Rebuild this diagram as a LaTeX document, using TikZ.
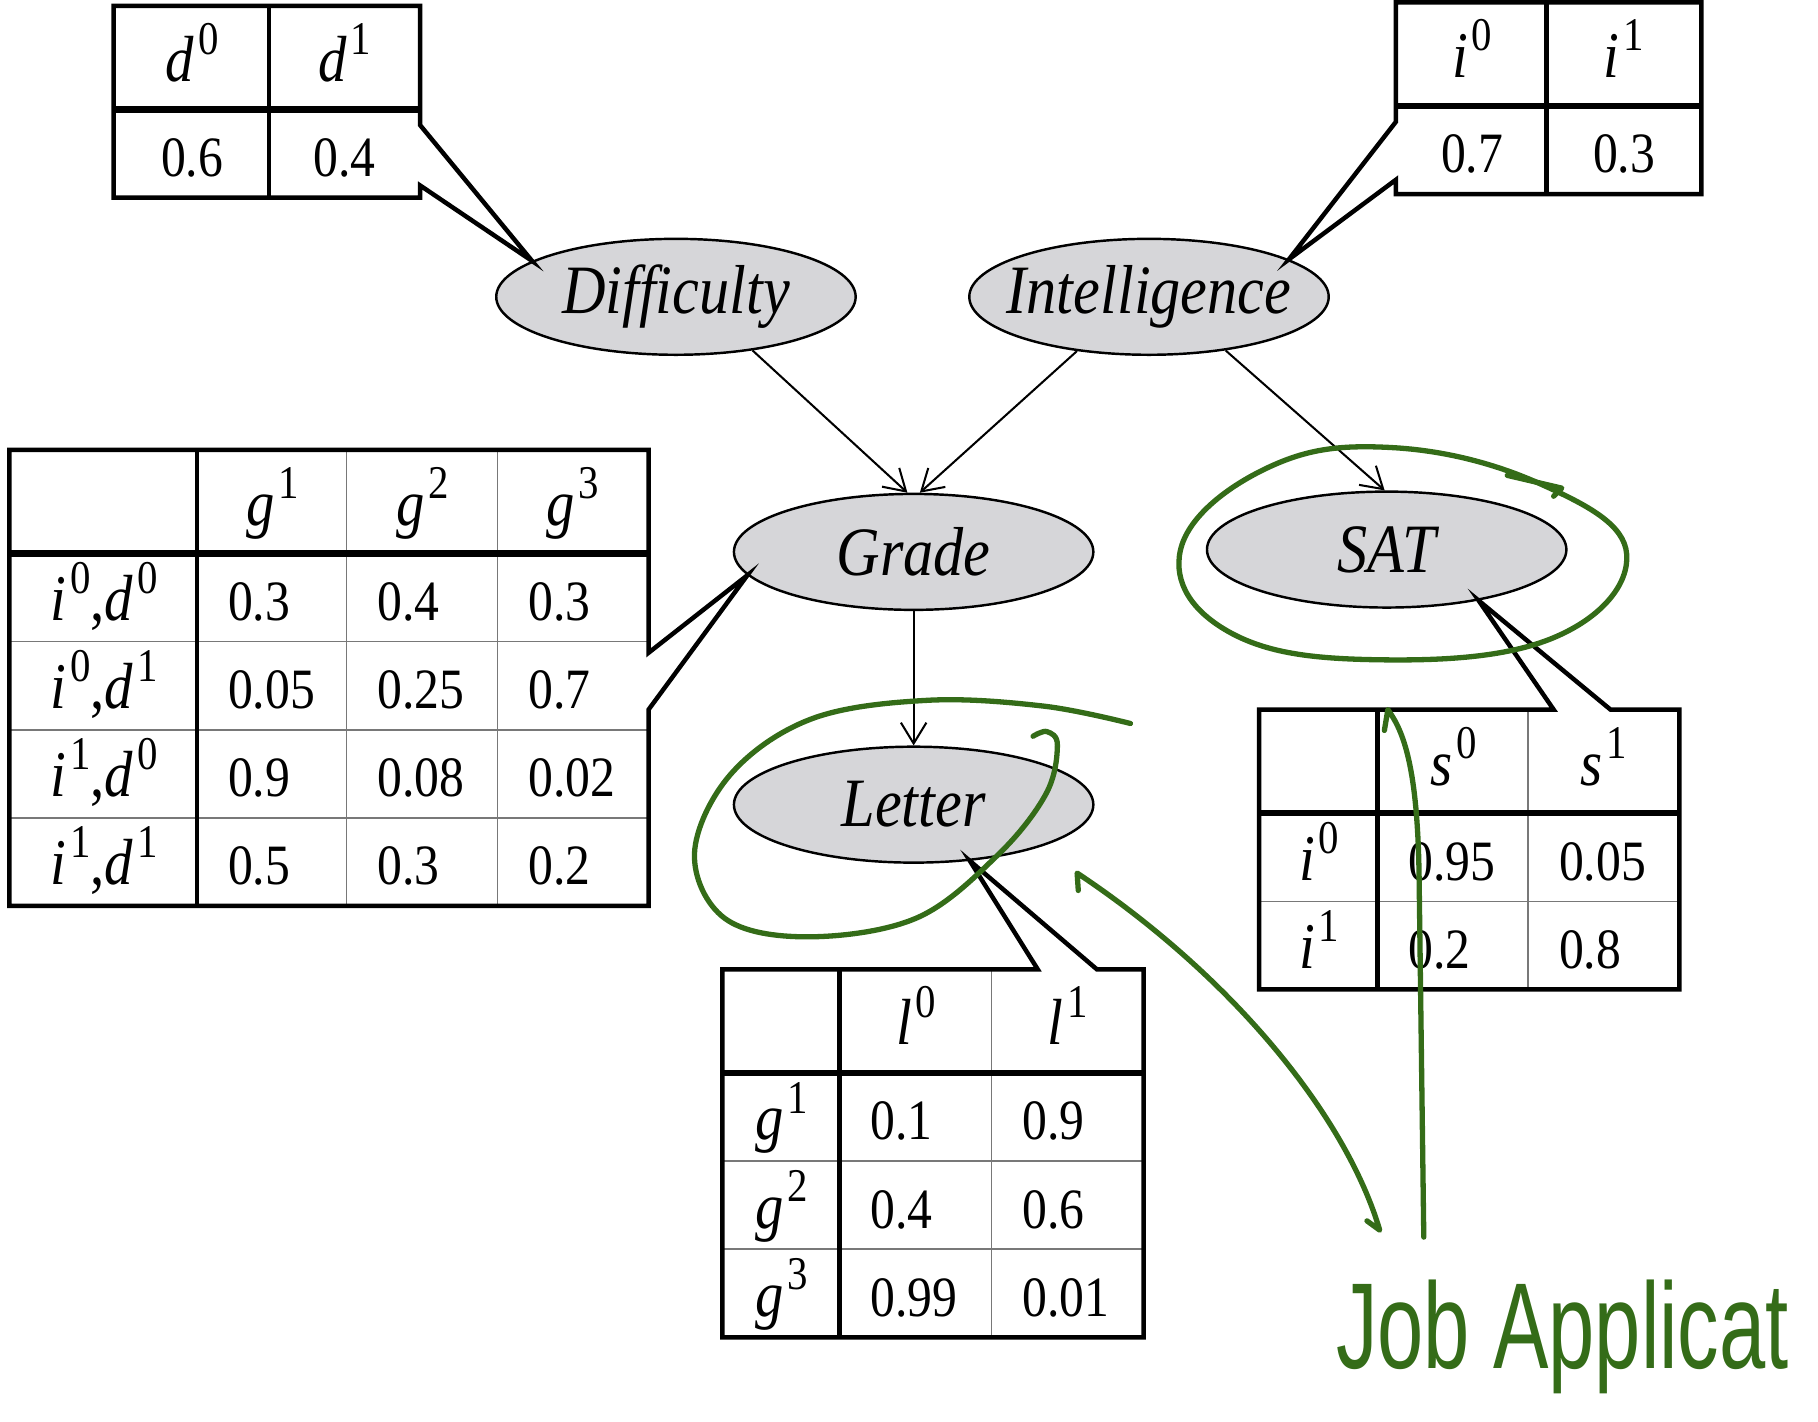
\documentclass[tikz,border=0pt]{standalone}
\usepackage{fontspec}
\setmainfont{Liberation Serif}[FakeStretch=0.87]
\newfontfamily\handfont{Liberation Sans}[FakeStretch=0.68]
\usetikzlibrary{
    arrows.meta,
    matrix,
    shapes.geometric
}
\definecolor{NodeGray}{RGB}{214,214,217}
\definecolor{InkGreen}{RGB}{52,108,24}
\definecolor{RuleGray}{RGB}{120,120,120}

\newcommand{\sv}[2]{\textit{#1}\kern.06em\raisebox{.9ex}{\scalebox{.72}{#2}}}
\newcommand{\lblfont}{\fontsize{17}{20}\selectfont\itshape}
\newcommand{\hdfont}{\fontsize{16}{19}\selectfont}
\newcommand{\numfont}{\fontsize{14}{17}\selectfont}

\tikzset{
  rv/.style    = {ellipse, draw, fill=NodeGray, line width=0.6pt,
                  minimum width=31mm, minimum height=10mm,
                  inner sep=0pt, font=\lblfont},
  arr/.style   = {-{Straight Barb[length=1.8mm, width=2.2mm]}, line width=0.5pt},
  cpt/.style   = {matrix of nodes, nodes in empty cells, anchor=north west,
                  inner sep=0pt, column sep=0pt, row sep=0pt,
                  nodes={inner xsep=2.6mm, inner ysep=0pt, text height=4.6mm,
                         text depth=0.5mm, minimum height=7.6mm,
                         align=left, font=\numfont},
                  row 1/.style={nodes={minimum height=8.8mm, align=center, font=\hdfont}}},
  rule/.style  = {line width=1.1pt},
  hrule/.style = {line width=1.6pt},
  fine/.style  = {line width=0.4pt, draw=RuleGray},
  ink/.style   = {draw=InkGreen, line width=1.3pt, line cap=round, line join=round}
}

\begin{document}
\begin{tikzpicture}[x=0.1mm, y=0.1mm]
  \useasboundingbox (0,0) rectangle (1568,-1226);

  % variables
  \node[rv] (diff)   at (583,-256)  {\makebox[0pt]{Difficulty}};
  \node[rv] (intel)  at (991,-256)  {\makebox[0pt]{Intelligence}};
  \node[rv] (grade)  at (788,-476)  {Grade};
  \node[rv] (sat)    at (1196,-474) {SAT};
  \node[rv] (letter) at (788,-694)  {Letter};

  \draw[arr] (diff.325)  -- (grade.96);
  \draw[arr] (intel.217) -- (grade.84);
  \draw[arr] (intel.325) -- (sat.92);
  \draw[arr] (grade)     -- (letter);

  % CPD for Difficulty
  \matrix[cpt, nodes={align=center},
          column 1/.style={nodes={text width=8.2mm}},
          column 2/.style={nodes={text width=7.7mm}}] (dcpt) at (98,-5) {
    \sv{d}{0} & \sv{d}{1} \\
    0.6 & 0.4 \\
  };
  \draw[hrule] (dcpt-1-1.south west) -- (dcpt-1-2.south east);
  \draw[rule]  (dcpt-1-2.north west) -- (dcpt-2-2.south west);
  \draw[rule]  (dcpt.north west) -- (dcpt.north east)
               -- ([yshift=-10.3mm]dcpt.north east) -- (diff.166)
               -- ([yshift=-15.5mm]dcpt.north east)
               -- (dcpt.south east) -- (dcpt.south west) -- cycle;

  % CPD for Intelligence
  \matrix[cpt, nodes={align=center},
          column 1/.style={nodes={text width=7.8mm}},
          column 2/.style={nodes={text width=8.0mm}}] (icpt) at (1204,-2) {
    \sv{i}{0} & \sv{i}{1} \\
    0.7 & 0.3 \\
  };
  \draw[hrule] (icpt-1-1.south west) -- (icpt-1-2.south east);
  \draw[rule]  (icpt-1-2.north west) -- (icpt-2-2.south west);
  \draw[rule]  (icpt.north east) -- (icpt.north west)
               -- ([yshift=-10.3mm]icpt.north west) -- (intel.15)
               -- ([yshift=-15.3mm]icpt.north west)
               -- (icpt.south west) -- (icpt.south east) -- cycle;

  % CPD for Grade
  \matrix[cpt,
          column 1/.style={nodes={text width=11.0mm, align=center, font=\hdfont}},
          column 2/.style={nodes={text width=7.7mm}},
          column 3/.style={nodes={text width=7.8mm}},
          column 4/.style={nodes={text width=7.7mm}}] (gcpt) at (8,-388) {
                         & \sv{g}{1} & \sv{g}{2} & \sv{g}{3} \\
    \sv{i}{0},\sv{d}{0} & 0.3  & 0.4  & 0.3  \\
    \sv{i}{0},\sv{d}{1} & 0.05 & 0.25 & 0.7  \\
    \sv{i}{1},\sv{d}{0} & 0.9  & 0.08 & 0.02 \\
    \sv{i}{1},\sv{d}{1} & 0.5  & 0.3  & 0.2  \\
  };
  \foreach \r in {2,3,4}
    \draw[fine] (gcpt-\r-1.south west) -- (gcpt-\r-4.south east);
  \foreach \c in {3,4}
    \draw[fine] (gcpt-1-\c.north west) -- (gcpt-5-\c.south west);
  \draw[hrule] (gcpt-1-1.south west) -- (gcpt-1-4.south east);
  \draw[rule]  (gcpt-1-2.north west) -- (gcpt-5-2.south west);
  \draw[rule]  (gcpt.north west) -- (gcpt.north east)
               -- ([yshift=-17.5mm]gcpt.north east) -- (grade.188)
               -- ([yshift=-22.4mm]gcpt.north east)
               -- (gcpt.south east) -- (gcpt.south west) -- cycle;

  % CPD for Letter
  \matrix[cpt,
          column 1/.style={nodes={text width=4.9mm, align=center, font=\hdfont}},
          column 2/.style={nodes={text width=7.9mm}},
          column 3/.style={nodes={text width=7.8mm}}] (lcpt) at (623,-836) {
              & \sv{l}{0} & \sv{l}{1} \\
    \sv{g}{1} & 0.1  & 0.9  \\
    \sv{g}{2} & 0.4  & 0.6  \\
    \sv{g}{3} & 0.99 & 0.01 \\
  };
  \foreach \r in {2,3}
    \draw[fine] (lcpt-\r-1.south west) -- (lcpt-\r-3.south east);
  \draw[fine]  (lcpt-1-3.north west) -- (lcpt-4-3.south west);
  \draw[hrule] (lcpt-1-1.south west) -- (lcpt-1-3.south east);
  \draw[rule]  (lcpt-1-2.north west) -- (lcpt-4-2.south west);
  \draw[rule]  (lcpt.north west) -- ([xshift=27.2mm]lcpt.north west)
               -- (letter.315) -- ([xshift=32.3mm]lcpt.north west)
               -- (lcpt.north east) -- (lcpt.south east)
               -- (lcpt.south west) -- cycle;

  % CPD for SAT
  \matrix[cpt,
          column 1/.style={nodes={text width=5.0mm, align=center, font=\hdfont}},
          column 2/.style={nodes={text width=7.8mm}},
          column 3/.style={nodes={text width=7.7mm}}] (scpt) at (1086,-612) {
              & \sv{s}{0} & \sv{s}{1} \\
    \sv{i}{0} & 0.95 & 0.05 \\
    \sv{i}{1} & 0.2  & 0.8  \\
  };
  \draw[fine]  (scpt-2-1.south west) -- (scpt-2-3.south east);
  \draw[fine]  (scpt-1-3.north west) -- (scpt-3-3.south west);
  \draw[hrule] (scpt-1-1.south west) -- (scpt-1-3.south east);
  \draw[rule]  (scpt-1-2.north west) -- (scpt-3-2.south west);
  \draw[rule]  (scpt.north west) -- ([xshift=25.4mm]scpt.north west)
               -- (sat.331) -- ([xshift=30.3mm]scpt.north west)
               -- (scpt.north east) -- (scpt.south east)
               -- (scpt.south west) -- cycle;

  % green annotations
  \node[font=\handfont\fontsize{30}{32}\selectfont, text=InkGreen, anchor=base west]
       (job) at (1140,-1180) {Job Applicat};
  \draw[ink] plot[smooth cycle, tension=0.7] coordinates {
       (1090,-405) (1200,-386) (1330,-418) (1403,-478) (1340,-550)
       (1186,-569) (1060,-545) (1018,-475)};
  \draw[ink] (1300,-410) -- (1347,-421) -- (1340,-428);
  \draw[ink] plot[smooth, tension=0.6] coordinates {
       (975,-624) (900,-609) (800,-604) (700,-620) (630,-668) (599,-736)
       (625,-792) (696,-808) (790,-792) (860,-738) (902,-685) (912,-643)
       (903,-631) (891,-635)};
  \draw[ink] (930,-768) -- (929,-753)
       .. controls (1060,-840) and (1160,-960) .. (1190,-1061) -- (1179,-1053);
  \draw[ink] (1228,-1067) -- (1224,-760)
       .. controls (1223,-660) and (1210,-630) .. (1197,-612) -- (1194,-630);
\end{tikzpicture}
\end{document}
